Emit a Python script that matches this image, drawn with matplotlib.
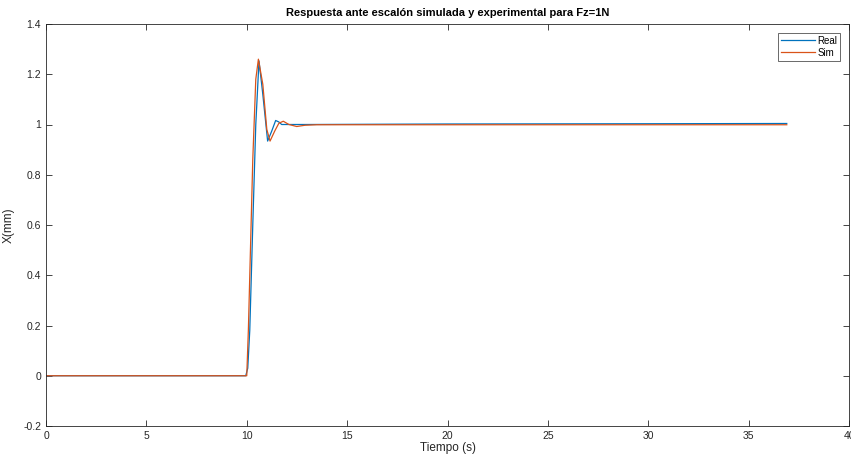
import matplotlib.pyplot as plt

plt.rcParams['font.family'] = ['Liberation Sans', 'DejaVu Sans']

# Datos
t_real = [0, 9.95, 10.05, 10.15, 10.3, 10.45, 10.61, 10.8, 11.04, 11.25, 11.44,
          11.6, 11.74, 12.0, 12.5, 13.0, 20.0, 30.0, 36.9]
x_real = [0, 0, 0.03, 0.18, 0.6, 1.0, 1.253, 1.12, 0.934, 0.975, 1.016,
          1.01, 1.0, 1.0, 1.0, 1.0, 1.002, 1.003, 1.004]

t_sim = [0, 10.0, 10.08, 10.2, 10.3, 10.45, 10.58, 10.8, 11.0, 11.16, 11.4,
         11.6, 11.82, 12.1, 12.49, 12.9, 13.5, 20.0, 30.0, 36.9]
x_sim = [0, 0, 0.18, 0.55, 0.86, 1.18, 1.26, 1.16, 0.98, 0.934, 0.975,
         1.005, 1.013, 1.0, 0.992, 0.997, 0.999, 0.999, 0.999, 0.999]

fig = plt.figure(figsize=(8.51, 4.62), dpi=100)
ax = fig.add_axes([46/851, 1 - 426/462, 803/851, 402/462])

ax.plot(t_real, x_real, color='#0072BD', linewidth=0.9, label='Real')
ax.plot(t_sim, x_sim, color='#D95319', linewidth=0.9, label='Sim')

ax.set_xlim(0, 40)
ax.set_ylim(-0.2, 1.4)
ax.set_xticks(range(0, 41, 5))
ax.set_yticks([-0.2, 0, 0.2, 0.4, 0.6, 0.8, 1, 1.2, 1.4])
ax.set_yticklabels(['-0.2', '0', '0.2', '0.4', '0.6', '0.8', '1', '1.2', '1.4'])

for s in ax.spines.values():
    s.set_color('#262626')
    s.set_linewidth(0.6)
ax.tick_params(direction='in', length=4, width=0.6, colors='#262626',
               labelsize=7.5, labelcolor='#262626', top=True, right=True)

ax.set_title('Respuesta ante escalón simulada y experimental para Fz=1N',
             fontsize=8, fontweight='bold', pad=6)
ax.set_xlabel('Tiempo (s)', fontsize=8.5, labelpad=1, color='#262626')
ax.set_ylabel('X(mm)', fontsize=8.5, labelpad=6, color='#262626')

leg = ax.legend(loc='upper right', fontsize=7, frameon=True, fancybox=False,
                borderaxespad=0.9, handlelength=3.5, handletextpad=0.3,
                borderpad=0.3, labelspacing=0.2, markerfirst=True)
leg.get_frame().set_edgecolor('#262626')
leg.get_frame().set_linewidth(0.6)
for txt in leg.get_texts():
    txt.set_ha('right')

fig.savefig('out.png', dpi=100)
